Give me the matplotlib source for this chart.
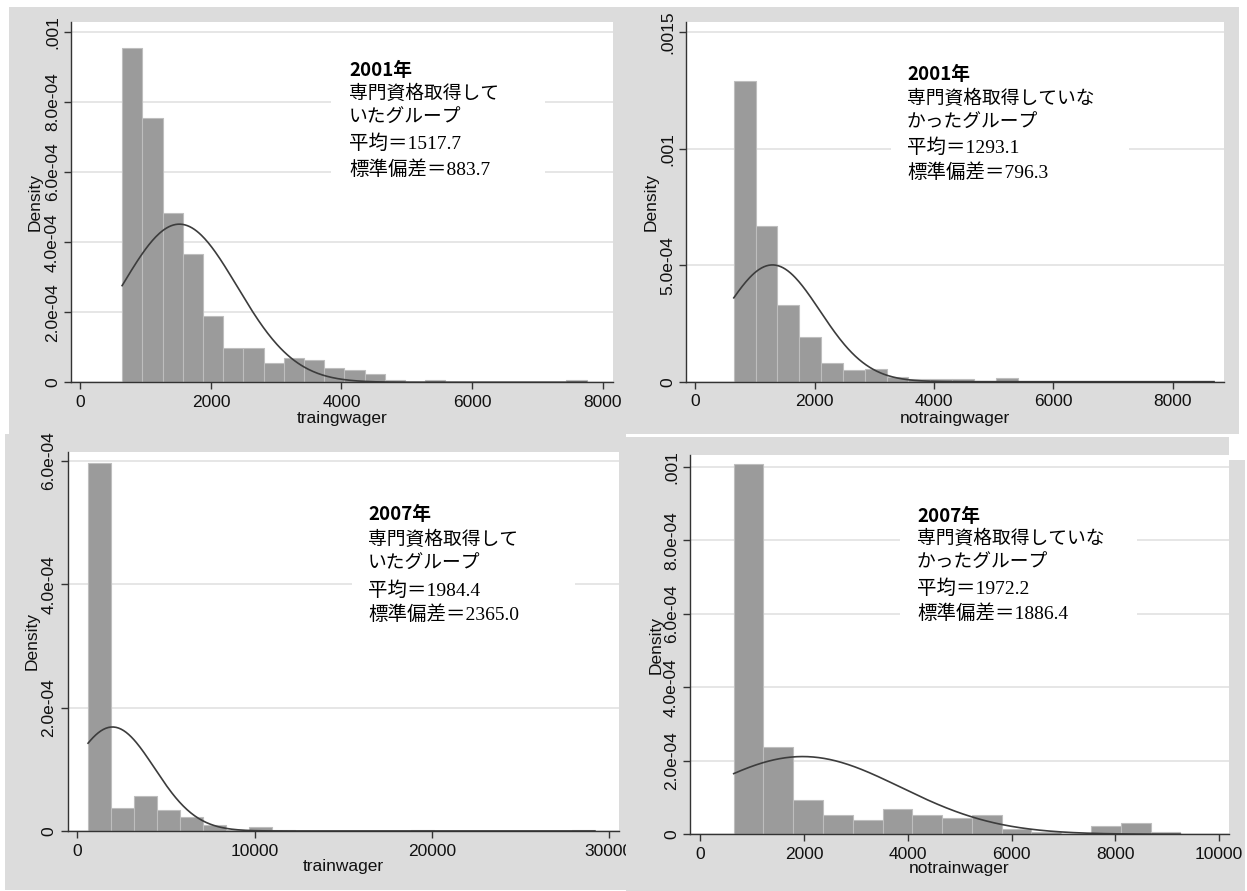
import numpy as np
import matplotlib
matplotlib.use('Agg')
import matplotlib.pyplot as plt
from matplotlib.patches import Rectangle
from matplotlib.transforms import Bbox, TransformedBbox

plt.rcParams['font.family'] = ['Liberation Sans', 'DejaVu Sans']
JP = ['Liberation Serif', 'Noto Sans CJK JP', 'DejaVu Sans']
JP_BOLD = ['Noto Sans CJK JP', 'DejaVu Sans']

W, H = 1247, 891
BG = '#dcdcdc'
BAR = '#9b9b9b'
BAREDGE = '#bebebe'
GRID = '#e4e4e4'
AXC = '#333333'

# --- data (densities in units of 1e-4) ---
names = ['traingwager', 'notraingwager', 'trainwager', 'notrainwager']
years = ['2001年', '2001年', '2007年', '2007年']
groups = [['専門資格取得して', 'いたグループ'],
          ['専門資格取得していな', 'かったグループ'],
          ['専門資格取得して', 'いたグループ'],
          ['専門資格取得していな', 'かったグループ']]
means = [1517.7, 1293.1, 1984.4, 1972.2]
sds = [883.7, 796.3, 2365.0, 1886.4]

bin_start = [641, 645, 607, 644]
bin_width = [309.3, 365.8, 1300, 574]

dens_1 = [9.53, 7.54, 4.82, 3.66, 1.89, 0.97, 0.97, 0.56, 0.69, 0.63, 0.40, 0.34,
          0.23, 0.07, 0, 0.06, 0, 0, 0, 0, 0, 0, 0.06]
dens_2 = [12.92, 6.68, 3.28, 1.92, 0.82, 0.49, 0.54, 0.21, 0.10, 0.10, 0.10, 0.03,
          0.16, 0, 0, 0, 0, 0, 0, 0, 0, 0.04]
dens_3 = [5.97, 0.38, 0.56, 0.34, 0.22, 0.10, 0.01, 0.06, 0.015, 0, 0, 0, 0, 0,
          0.015, 0, 0, 0, 0, 0, 0, 0.02]
dens_4 = [10.07, 2.38, 0.92, 0.53, 0.38, 0.69, 0.53, 0.45, 0.53, 0.14, 0.05, 0.0,
          0.23, 0.30, 0.07]
dens = [dens_1, dens_2, dens_3, dens_4]

xticks = [[0, 2000, 4000, 6000, 8000], [0, 2000, 4000, 6000, 8000],
          [0, 10000, 20000, 30000], [0, 2000, 4000, 6000, 8000, 10000]]
yticks = [[0, 2e-4, 4e-4, 6e-4, 8e-4, 1e-3], [0, 5e-4, 1e-3, 1.5e-3],
          [0, 2e-4, 4e-4, 6e-4], [0, 2e-4, 4e-4, 6e-4, 8e-4, 1e-3]]
yticklabels = [['0', '2.0e-04', '4.0e-04', '6.0e-04', '8.0e-04', '.001'],
               ['0', '5.0e-04', '.001', '.0015'],
               ['0', '2.0e-04', '4.0e-04', '6.0e-04'],
               ['0', '2.0e-04', '4.0e-04', '6.0e-04', '8.0e-04', '.001']]

# --- layout (pixels) ---
axbox = [(71, 22, 613, 382.3), (686, 22, 1224, 381.7),
         (67.7, 452, 619.3, 831), (690, 455, 1228.7, 834.3)]
xlims = [(-142, 8158), (-156, 8860), (-542, 30587), (-199, 10187)]
ylims = [(0, 1.0285e-3), (0, 1.543e-3), (0, 6.146e-4), (0, 1.0318e-3)]
boxes = [(331, 50, 545, 190), (891, 55, 1129, 195),
         (352, 495, 575, 640), (900, 495, 1137, 640)]
text_x = [349, 907, 368, 917]
text_y = [[70, 94, 118, 144, 170], [75, 99, 123, 148, 173],
          [515, 540, 564, 591, 615], [516, 539, 563, 589, 614]]
ylab_x = [35, 651, 32, 656]
xlab_y = [418, 418, 866, 868]

fig = plt.figure(figsize=(W / 100, H / 100), dpi=100, facecolor='white')

def frect(x0, y0, x1, y1):
    return Rectangle((x0 / W, 1 - y1 / H), (x1 - x0) / W, (y1 - y0) / H,
                     transform=fig.transFigure, facecolor=BG, edgecolor='none', zorder=-10)

for r in [(9, 7, 1239, 434), (5, 434, 626, 890), (626, 437, 1229, 891), (1229, 460, 1245, 891)]:
    fig.patches.append(frect(*r))

for i in range(4):
    l, t, r, b = axbox[i]
    ax = fig.add_axes([l / W, 1 - b / H, (r - l) / W, (b - t) / H])
    ax.set_facecolor('white')
    ax.set_xlim(*xlims[i])
    ax.set_ylim(*ylims[i])
    ax.set_axisbelow(True)
    ax.yaxis.grid(True, color=GRID, lw=1.3)
    for s in ['top', 'right']:
        ax.spines[s].set_visible(False)
    for s in ['left', 'bottom']:
        ax.spines[s].set_color(AXC)
        ax.spines[s].set_linewidth(1.0)

    # white box behind annotation, hides the grid
    bx0, by0, bx1, by1 = boxes[i]
    ax.add_patch(Rectangle(((bx0 - l) / (r - l), (b - by1) / (b - t)),
                           (bx1 - bx0) / (r - l), (by1 - by0) / (b - t),
                           transform=ax.transAxes, facecolor='white', edgecolor='none', zorder=0.8))

    edges = bin_start[i] + bin_width[i] * np.arange(len(dens[i]))
    ax.bar(edges, np.array(dens[i]) * 1e-4, width=bin_width[i], align='edge',
           color=BAR, edgecolor=BAREDGE, linewidth=0.8, zorder=1)

    lo = bin_start[i]
    hi = bin_start[i] + bin_width[i] * len(dens[i])
    xs = np.linspace(lo, hi, 400)
    ys = np.exp(-(xs - means[i]) ** 2 / (2 * sds[i] ** 2)) / (sds[i] * np.sqrt(2 * np.pi))
    ax.plot(xs, ys, color='#3c3c3c', lw=1.2, zorder=2)

    ax.set_xticks(xticks[i])
    ax.set_xticklabels([str(v) for v in xticks[i]])
    ax.set_yticks(yticks[i])
    ax.set_yticklabels(yticklabels[i], rotation=90, va='center')
    ax.tick_params(axis='both', direction='out', length=5, width=1, color=AXC,
                   labelsize=12.5, labelcolor='#111111')
    ax.tick_params(axis='x', pad=4)
    ax.tick_params(axis='y', pad=3)

    ax.set_ylabel('Density', fontsize=12.5, color='#111111')
    ax.yaxis.label.set_va('center')
    ax.yaxis.set_label_coords((ylab_x[i] - l) / (r - l), 0.5)
    ax.set_xlabel(names[i], fontsize=12.5, color='#111111')
    ax.xaxis.label.set_va('center')
    ax.xaxis.set_label_coords(0.5, (b - xlab_y[i]) / (b - t))

    lines = [years[i]] + groups[i] + ['平均＝%.1f' % means[i], '標準偏差＝%.1f' % sds[i]]
    for k, line in enumerate(lines):
        fig.text(text_x[i] / W, 1 - text_y[i][k] / H, line,
                 family=JP_BOLD if k == 0 else JP,
                 fontsize=14 if k > 2 else 13.5, fontweight='bold' if k == 0 else 'normal',
                 color='black', ha='left', va='center')

    if i == 2:
        clip = TransformedBbox(Bbox.from_extents(0, 0, 626 / W, 1), fig.transFigure)
        for lab in ax.get_xticklabels():
            lab.set_clip_box(clip)
            lab.set_clip_on(True)

fig.savefig('out.png', dpi=100, facecolor='white')
